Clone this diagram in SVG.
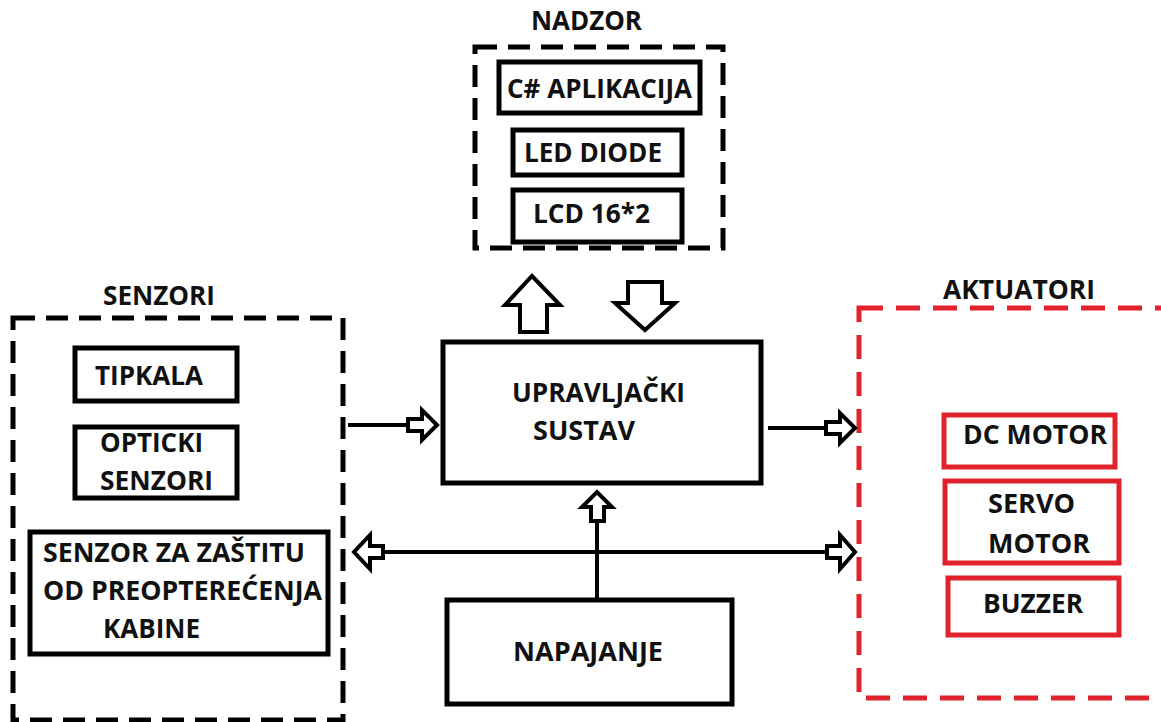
<svg xmlns="http://www.w3.org/2000/svg" width="1161" height="722" viewBox="0 0 1161 722">
<style>
text{font-family:"Open Sans","Liberation Sans",Arial,sans-serif;font-weight:bold;font-size:26px;fill:#111}
.box{fill:none;stroke:#000;stroke-width:5}
.rbox{fill:none;stroke:#e0222c;stroke-width:5}
.dash{fill:none;stroke:#000;stroke-width:5;stroke-dasharray:22 11}
.rdash{fill:none;stroke:#e0222c;stroke-width:5;stroke-dasharray:24 13}
.line{stroke:#000;stroke-width:4;fill:none}
.blk{fill:#fff;stroke:#000;stroke-width:4;stroke-linejoin:miter}
</style>
<rect width="1161" height="722" fill="#fff"/>
<g id="nadzor">
<rect class="dash" x="475" y="47" width="248" height="201"/>
<text x="531" y="30" textLength="111" lengthAdjust="spacingAndGlyphs">NADZOR</text>
</g>
<g id="c-aplikacija">
<rect class="box" x="499" y="62" width="201" height="51"/>
<text x="507" y="98" textLength="185" lengthAdjust="spacingAndGlyphs">C# APLIKACIJA</text>
</g>
<g id="led-diode">
<rect class="box" x="513" y="130" width="169" height="45"/>
<text x="524" y="162" textLength="138" lengthAdjust="spacingAndGlyphs">LED DIODE</text>
</g>
<g id="lcd">
<rect class="box" x="513" y="190" width="169" height="52"/>
<text x="533" y="223" textLength="117" lengthAdjust="spacingAndGlyphs">LCD 16*2</text>
</g>
<g id="senzori">
<rect class="dash" x="13" y="318" width="330" height="402"/>
<text x="103" y="305" textLength="112" lengthAdjust="spacingAndGlyphs">SENZORI</text>
</g>
<g id="tipkala">
<rect class="box" x="75" y="348" width="162" height="53"/>
<text x="95" y="385" textLength="108" lengthAdjust="spacingAndGlyphs">TIPKALA</text>
</g>
<g id="opticki">
<rect class="box" x="75" y="427" width="162" height="71"/>
<text x="100" y="452" textLength="103" lengthAdjust="spacingAndGlyphs">OPTICKI</text>
<text x="100" y="490" textLength="113" lengthAdjust="spacingAndGlyphs">SENZORI</text>
</g>
<g id="senzor-zastita">
<rect class="box" x="30" y="532" width="298" height="122"/>
<text x="43" y="562" textLength="262" lengthAdjust="spacingAndGlyphs">SENZOR ZA ZAŠTITU</text>
<text x="43" y="600" textLength="279" lengthAdjust="spacingAndGlyphs">OD PREOPTEREĆENJA</text>
<text x="103" y="638" textLength="97" lengthAdjust="spacingAndGlyphs">KABINE</text>
</g>
<g id="upravljacki">
<rect class="box" x="443" y="342" width="318" height="141"/>
<text x="512" y="402" textLength="173" lengthAdjust="spacingAndGlyphs">UPRAVLJAČKI</text>
<text x="533" y="440" textLength="102" lengthAdjust="spacingAndGlyphs">SUSTAV</text>
</g>
<g id="napajanje">
<rect class="box" x="447" y="600" width="285" height="104"/>
<text x="513" y="661" textLength="150" lengthAdjust="spacingAndGlyphs">NAPAJANJE</text>
</g>
<g id="aktuatori">
<rect class="rdash" x="859" y="308" width="320" height="390"/>
<text x="943" y="299" textLength="152" lengthAdjust="spacingAndGlyphs">AKTUATORI</text>
</g>
<g id="dc-motor">
<rect class="rbox" x="944" y="415" width="171" height="52"/>
<text x="963" y="444" textLength="144" lengthAdjust="spacingAndGlyphs">DC MOTOR</text>
</g>
<g id="servo-motor">
<rect class="rbox" x="945" y="481" width="174" height="82"/>
<text x="988" y="513" textLength="87" lengthAdjust="spacingAndGlyphs">SERVO</text>
<text x="988" y="553" textLength="102" lengthAdjust="spacingAndGlyphs">MOTOR</text>
</g>
<g id="buzzer">
<rect class="rbox" x="948" y="578" width="171" height="57"/>
<text x="983" y="613" textLength="100" lengthAdjust="spacingAndGlyphs">BUZZER</text>
</g>
<g id="connectors">
<polygon class="blk" points="520,332 520,305 505,305 532,276 560,305 547,305 547,332"/>
<polygon class="blk" points="628,282 662,282 662,303 675,303 645,330 615,303 628,303"/>
<line class="line" x1="348" y1="425" x2="408" y2="425"/>
<polygon class="blk" points="408,419 422,419 422,410 437,425 422,440 422,431 408,431"/>
<line class="line" x1="768" y1="428" x2="826" y2="428"/>
<polygon class="blk" points="826,422 840,422 840,413 855,428 840,443 840,434 826,434"/>
<line class="line" x1="597" y1="521" x2="597" y2="600"/>
<polygon class="blk" points="591,521 591,507 582,507 597,492 612,507 604,507 604,521"/>
<line class="line" x1="383" y1="552" x2="827" y2="552"/>
<polygon class="blk" points="383,546 370,546 370,535 354,552 370,569 370,558 383,558"/>
<polygon class="blk" points="827,546 840,546 840,535 855,552 840,569 840,558 827,558"/>
</g>
</svg>
